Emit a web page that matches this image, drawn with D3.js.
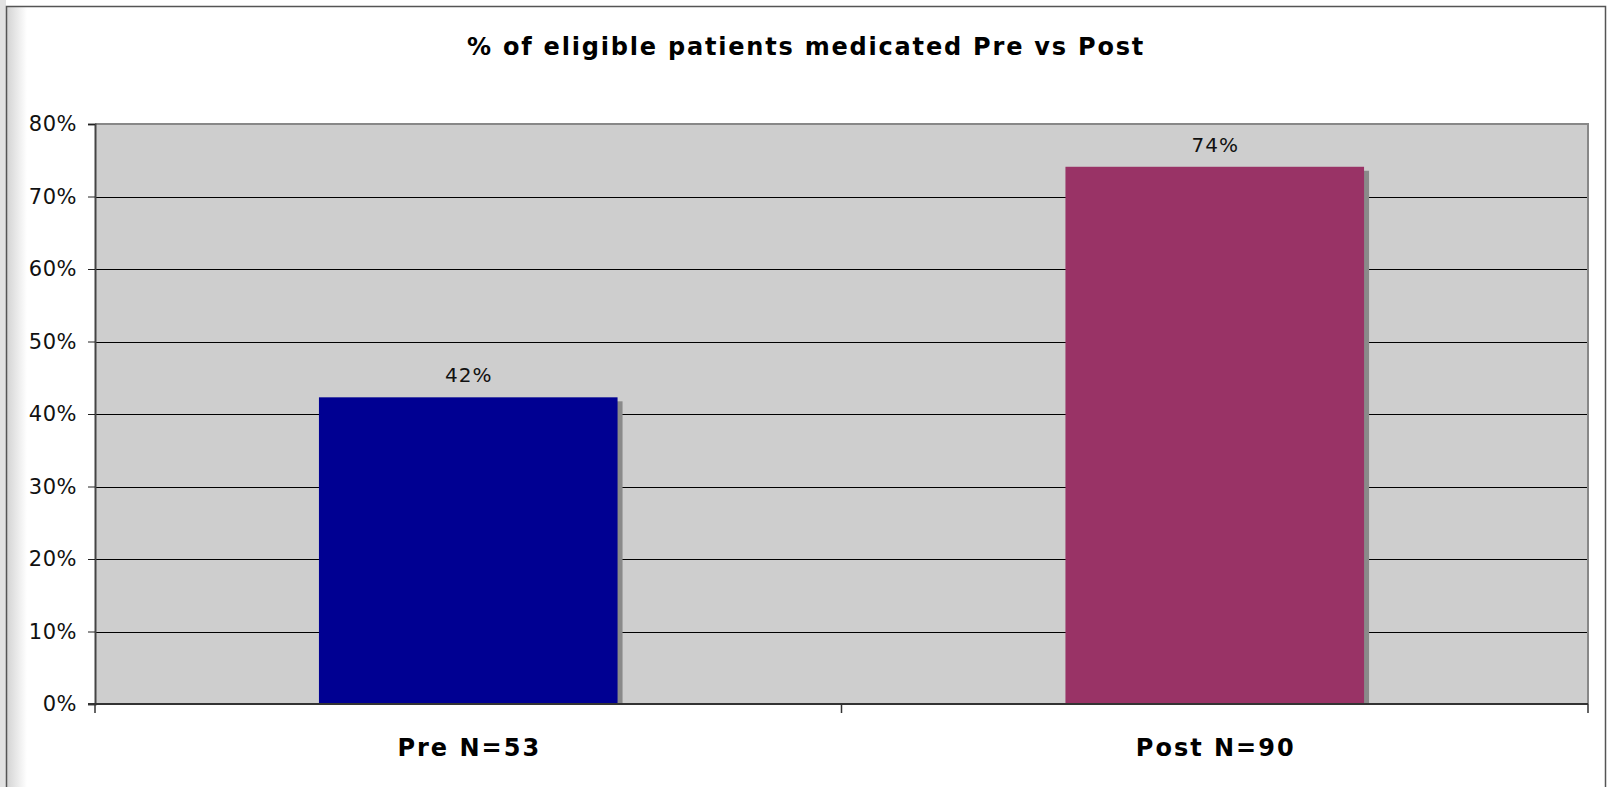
<!DOCTYPE html>
<html>
<head>
<meta charset="utf-8">
<script src="https://d3js.org/d3.v7.min.js"></script>
<style>
  body { margin: 0; background: #fff; }
  text { font-family: "DejaVu Sans", Verdana, sans-serif; }
</style>
</head>
<body>
<div id="chart"></div>
<script>
var title = "% of eligible patients medicated Pre vs Post";
var categories = ["Pre N=53", "Post N=90"];
var values = [42.3, 74.1];
var value_labels = ["42%", "74%"];
var y_ticks = [0, 10, 20, 30, 40, 50, 60, 70, 80];
var bar_colors = ["#000092", "#993366"];

var width = 1608, height = 787;
var margin = {top: 124, right: 20, bottom: 83, left: 95};

var svg = d3.select('#chart')
            .append('svg')
            .attr('width', width)
            .attr('height', height);

// frame with soft gradient on left edge
var defs = svg.append('defs');
var grad = defs.append('linearGradient').attr('id', 'edge').attr('x1', 0).attr('x2', 1);
grad.append('stop').attr('offset', 0).attr('stop-color', '#d4d4d4');
grad.append('stop').attr('offset', 1).attr('stop-color', '#ffffff');

svg.append('rect').attr('x', 0).attr('y', 0).attr('width', 6).attr('height', height)
    .style('fill', '#e2e2e2');
svg.append('rect').attr('x', 7).attr('y', 7).attr('width', 20).attr('height', height)
    .style('fill', 'url(#edge)');
svg.append('path')
    .attr('d', 'M6.5,' + height + 'V6.5H1605.5V' + height)
    .style('fill', 'none').style('stroke', '#555').style('stroke-width', 1.5);

var x = d3.scaleBand()
    .domain(categories)
    .range([margin.left, width - margin.right]);

var y = d3.scaleLinear()
    .domain([0, 80])
    .range([height - margin.bottom, margin.top]);

var g = svg.append('g');

// plot area
g.append('rect')
    .attr('x', margin.left)
    .attr('y', y(80))
    .attr('width', width - margin.right - margin.left)
    .attr('height', y(0) - y(80))
    .style('fill', '#cecece');

// gridlines
g.selectAll('.grid')
    .data(y_ticks.slice(1, -1))
    .enter()
    .append('line')
    .attr('x1', margin.left)
    .attr('x2', width - margin.right)
    .attr('y1', d => Math.round(y(d)) + 0.5)
    .attr('y2', d => Math.round(y(d)) + 0.5)
    .style('stroke', '#000')
    .style('stroke-width', 1);

// top and right border of the plot area
g.append('path')
    .attr('d', 'M' + margin.left + ',' + y(80) + 'H' + (width - margin.right) + 'V' + y(0))
    .style('fill', 'none')
    .style('stroke', '#888')
    .style('stroke-width', 2);

var barW = x.bandwidth() * 0.4;

// bar shadows
g.selectAll('.shadow')
    .data(values)
    .enter()
    .append('rect')
    .attr('x', (d, i) => x(categories[i]) + x.bandwidth() / 2 - barW / 2 + 5)
    .attr('y', d => y(d) + 4)
    .attr('width', barW)
    .attr('height', d => y(0) - y(d) - 4)
    .style('fill', '#8a8a8a');

g.selectAll('.bar')
    .data(values)
    .enter()
    .append('rect')
    .attr('x', (d, i) => x(categories[i]) + x.bandwidth() / 2 - barW / 2)
    .attr('y', d => y(d))
    .attr('width', barW)
    .attr('height', d => y(0) - y(d))
    .style('fill', (d, i) => bar_colors[i]);

g.selectAll('.vlabel')
    .data(values)
    .enter()
    .append('text')
    .attr('x', (d, i) => x(categories[i]) + x.bandwidth() / 2 + 0.5)
    .attr('y', d => y(d) - 15)
    .attr('text-anchor', 'middle')
    .style('font-size', '20px')
    .style('letter-spacing', '1px')
    .style('fill', '#111')
    .text((d, i) => value_labels[i]);

// y axis
var yAxis = d3.axisLeft(y)
    .tickValues(y_ticks)
    .tickSize(7)
    .tickPadding(11)
    .tickFormat(d => d + '%');

var ya = svg.append('g')
    .attr('transform', 'translate(' + margin.left + ',0)')
    .call(yAxis);
ya.select('.domain').style('stroke', '#444').style('stroke-width', 2);
ya.selectAll('.tick line').style('stroke', '#222');
ya.selectAll('.tick text')
    .style('font-size', '21px')
    .style('letter-spacing', '0.5px')
    .style('fill', '#111')
    .style('font-family', '"DejaVu Sans", Verdana, sans-serif');

// x axis line and ticks at category boundaries
svg.append('line')
    .attr('x1', margin.left - 7)
    .attr('x2', width - margin.right)
    .attr('y1', y(0))
    .attr('y2', y(0))
    .style('stroke', '#333')
    .style('stroke-width', 2);

var bounds = categories.map(c => x(c)).concat([x.range()[1]]);
svg.selectAll('.xtick')
    .data(bounds)
    .enter()
    .append('line')
    .attr('x1', d => d)
    .attr('x2', d => d)
    .attr('y1', y(0))
    .attr('y2', y(0) + 9)
    .style('stroke', '#333')
    .style('stroke-width', 1.5);

svg.selectAll('.xlabel')
    .data(categories)
    .enter()
    .append('text')
    .attr('x', d => x(d) + x.bandwidth() / 2 + 1)
    .attr('y', 756)
    .attr('text-anchor', 'middle')
    .style('font-size', '24px')
    .style('letter-spacing', '2px')
    .style('font-weight', 'bold')
    .style('fill', '#000')
    .text(d => d);

svg.append('text')
    .attr('x', 806)
    .attr('y', 55)
    .attr('text-anchor', 'middle')
    .style('font-size', '24px')
    .style('letter-spacing', '1.8px')
    .style('font-weight', 'bold')
    .style('fill', '#000')
    .text(title);
</script>
</body>
</html>
